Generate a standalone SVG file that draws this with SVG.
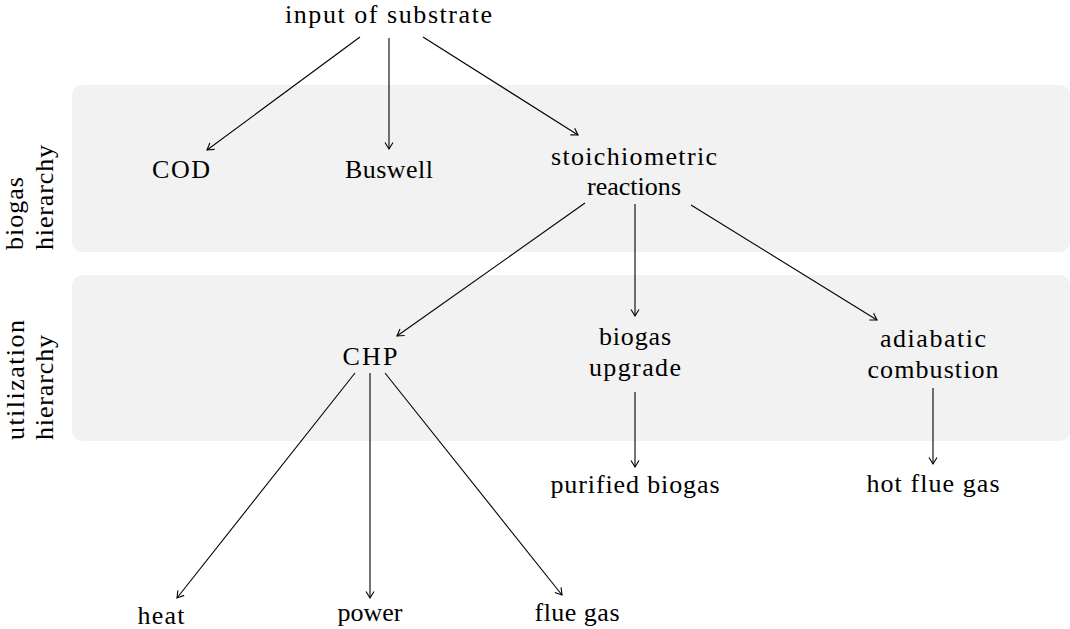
<svg xmlns="http://www.w3.org/2000/svg" width="1070" height="629" viewBox="0 0 1070 629">
<style>
  .band { fill: #f2f2f2; }
  text { font-family: "Liberation Serif", "Times New Roman", serif; font-size: 26px; fill: #000; }
  .c { text-anchor: middle; }
  .conn line { stroke: #000; stroke-width: 1.1; fill: none; marker-end: url(#arr); }
</style>
<defs>
  <marker id="arr" viewBox="-8 -5 10 10" refX="0" refY="0" markerWidth="10" markerHeight="10" markerUnits="userSpaceOnUse" orient="auto">
    <path d="M-6.5,-4 L0,0 L-6.5,4" fill="none" stroke="#000" stroke-width="1.1"/>
  </marker>
</defs>
<rect class="band" x="72" y="85" width="998" height="167" rx="10"/>
<rect class="band" x="72" y="275" width="998" height="166" rx="10"/>
<g id="label-biogas">
  <text transform="translate(23,250) rotate(-90)" textLength="73">biogas</text>
  <text transform="translate(53,250) rotate(-90)" textLength="105">hierarchy</text>
</g>
<g id="label-utilization">
  <text transform="translate(24,440) rotate(-90)" textLength="120">utilization</text>
  <text transform="translate(53,440) rotate(-90)" textLength="105">hierarchy</text>
</g>
<g class="conn" id="connectors">
  <line x1="360" y1="37" x2="207" y2="150"/>
  <line x1="389" y1="38" x2="389" y2="149"/>
  <line x1="423" y1="37" x2="578" y2="135"/>
  <line x1="585" y1="203" x2="397" y2="336"/>
  <line x1="635" y1="204" x2="635" y2="316"/>
  <line x1="691" y1="205" x2="877" y2="320"/>
  <line x1="635" y1="392" x2="635" y2="467"/>
  <line x1="933" y1="388" x2="933" y2="464"/>
  <line x1="355" y1="373" x2="177" y2="598"/>
  <line x1="370" y1="373" x2="370" y2="598"/>
  <line x1="385" y1="373" x2="562" y2="595"/>
</g>
<g id="n-input"><text class="c" x="388.5" y="23" textLength="207">input of substrate</text></g>
<g id="n-cod"><text class="c" x="181" y="178" textLength="58">COD</text></g>
<g id="n-buswell"><text class="c" x="389" y="178" textLength="88">Buswell</text></g>
<g id="n-stoich">
  <text class="c" x="634" y="165" textLength="166">stoichiometric</text>
  <text class="c" x="634" y="195" textLength="94">reactions</text>
</g>
<g id="n-chp"><text class="c" x="370" y="365" textLength="55">CHP</text></g>
<g id="n-upgrade">
  <text class="c" x="635" y="345" textLength="72">biogas</text>
  <text class="c" x="635" y="376" textLength="92">upgrade</text>
</g>
<g id="n-adiabatic">
  <text class="c" x="933" y="347" textLength="106">adiabatic</text>
  <text class="c" x="933" y="378" textLength="131">combustion</text>
</g>
<g id="n-purified"><text class="c" x="635" y="493" textLength="169">purified biogas</text></g>
<g id="n-hotflue"><text class="c" x="933" y="492" textLength="133">hot flue gas</text></g>
<g id="n-heat"><text class="c" x="161" y="624" textLength="47">heat</text></g>
<g id="n-power"><text class="c" x="370" y="621" textLength="65">power</text></g>
<g id="n-fluegas"><text class="c" x="577" y="621" textLength="85">flue gas</text></g>
</svg>
